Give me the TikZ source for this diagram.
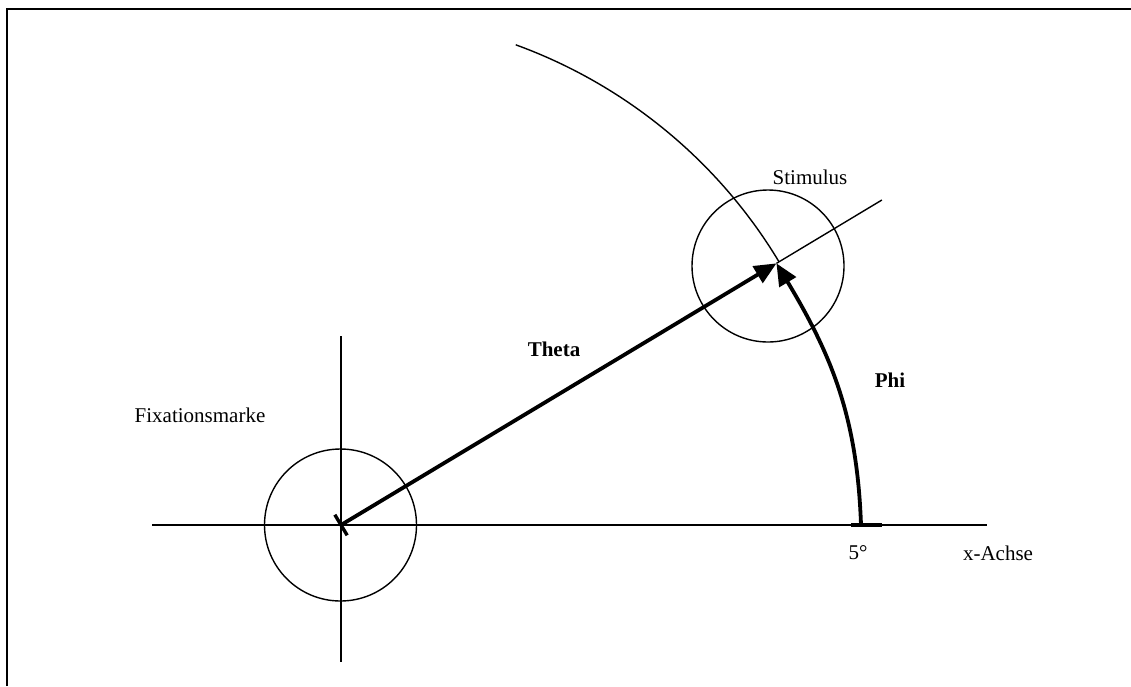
\documentclass[tikz,border=0pt]{standalone}
\usepackage{fontspec}
\setmainfont{Liberation Serif}
\usetikzlibrary{arrows.meta,positioning,calc}

\begin{document}
\begin{tikzpicture}[
    x=1pt,y=1pt,
    thin line/.style={line width=1.4pt},
    ring/.style={circle,draw,line width=1.4pt,minimum size=152pt,inner sep=0pt},
    vec/.style={line width=3.8pt,-{Triangle[length=22pt,width=19pt]}},
    lbl/.style={font=\fontsize{21}{25}\selectfont,inner sep=0pt},
    blbl/.style={font=\fontsize{21}{25}\selectfont\bfseries,inner sep=0pt}
  ]
    \useasboundingbox (0,0) rectangle (1131,-686);
    % frame (only top and left edge)
    \draw[line width=2.6pt] (7,-686) -- (7,-9) -- (1131,-9);
    % axes
    \coordinate (O) at (341,-525);
    \coordinate (xl) at (152,-525);
    \coordinate (xr) at (987,-525);
    \coordinate (yt) at (341,-336);
    \coordinate (yb) at (341,-662);
    \draw[thin line] (xl) -- (xr);
    \draw[thin line] (yt) -- (yb);
    % stimulus point and its ray
    \coordinate (S) at ($(O)+(31:508)$);
    \coordinate (ray) at ($(O)+(31:631)$);
    \draw[thin line] (S) -- (ray);
    % circles
    \node[ring] (fixring) at (340.5,-525) {};
    \node[ring] (stimring) at (768,-266) {};
    % eccentricity arc
    \coordinate (arctop) at ($(O)+(70:511)$);
    \draw[thin line] (arctop) arc[start angle=70,end angle=31,radius=511];
    % 5 degree mark
    \coordinate (m1) at (851,-525);
    \coordinate (m2) at (882,-525);
    \coordinate (phi0) at (861,-525);
    \draw[line width=3.6pt] (m1) -- (m2);
    % vectors
    \draw[vec,shorten <=-1pt] (O) -- (S);
    \draw[vec] (phi0) to[out=92,in=-59] (S);
    \draw[line width=3.4pt] ($(O)+(121:12)$) -- ($(O)+(-59:12)$);
    % labels
    \node[lbl] (fixlbl) at (200,-415) {Fixationsmarke};
    \node[lbl] (stimlbl) at (810,-177) {Stimulus};
    \node[blbl] (theta) at (554,-349) {Theta};
    \node[blbl] (phi) at (890,-380) {Phi};
    \node[lbl] (deg) at (858,-553) {5°};
    \node[lbl] (xaxis) at (998,-553) {x-Achse};
\end{tikzpicture}
\end{document}
